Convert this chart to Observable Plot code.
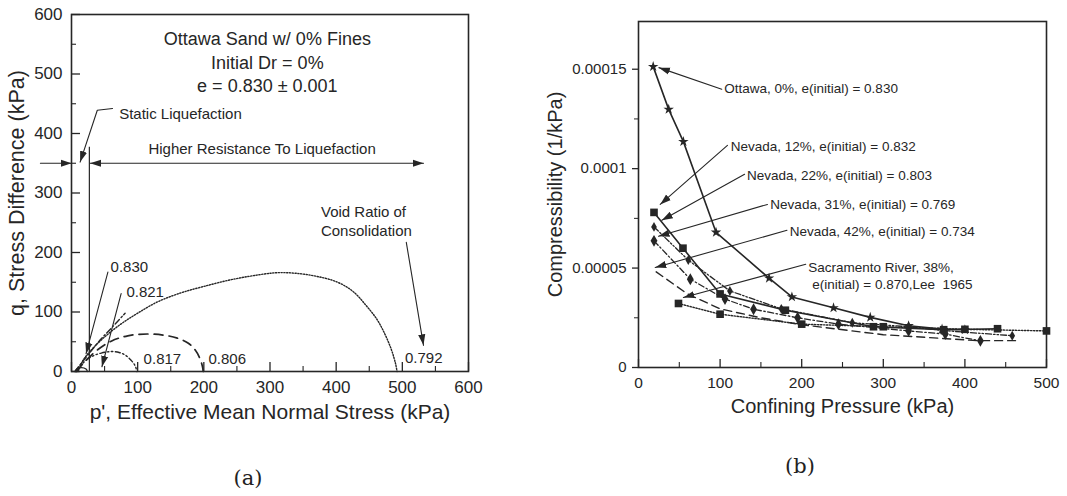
<!DOCTYPE html>
<html><head><meta charset="utf-8">
<script src="https://cdn.jsdelivr.net/npm/d3@7"></script>
<script src="https://cdn.jsdelivr.net/npm/@observablehq/plot@0.6"></script>
<style>
body{margin:0;background:#fff;}
#wrap{position:relative;width:1067px;height:496px;overflow:hidden;background:#fff;}
#a,#b{position:absolute;top:0;}
#a{left:0px;} #b{left:540px;}
.cap{position:absolute;font-family:"DejaVu Serif","Liberation Serif",serif;font-size:21px;color:#222;transform:translate(-50%,-50%);}
</style></head><body>
<div id="wrap"><div id="a"></div><div id="b"></div>
<div class="cap" style="left:248px;top:478px">(a)</div>
<div class="cap" style="left:800px;top:466px">(b)</div></div>
<script>
const INK = "#262626";
const FONT = "'Liberation Sans', Arial, sans-serif";

// ---------- Panel (a) data ----------
const aXTicks = [0,100,200,300,400,500,600];
const aXMinor = [50,150,250,350,450,550];
const aYTicks = [0,100,200,300,400,500,600];
const aYMinor = [50,150,250,350,450,550];
const aXTitle = "p', Effective Mean Normal Stress (kPa)";
const aYTitle = "q, Stress Difference (kPa)";
const aHeader = ["Ottawa Sand w/ 0% Fines","Initial Dr = 0%","e = 0.830 \u00b1 0.001"];
const aHeaderY = [559,518,479];
// stress paths (p', q) by void ratio of consolidation
const path0792 = [[10,0],[17,18],[28,34],[50,58],[75,80],[100,98],[130,117],[165,132],[200,143],[240,154],[280,162],[310,166],[340,165],[370,160],[400,151],[425,135],[446,110],[462,87],[474,62],[484,35],[490,12],[492,0]];
const path0806 = [[8,0],[15,10],[25,22],[40,37],[60,51],[85,60],[115,63],[140,61],[160,56],[176,48],[187,36],[194,22],[198,8],[199,0]];
const path0817 = [[6,0],[12,8],[20,17],[32,26],[45,31],[60,33.5],[72,32],[82,27],[90,19],[96,10],[99,0]];
const path0821 = [[5,0],[12,10],[25,28],[45,55],[62,75],[81,98]];
const path0830 = [[6,0],[8,4],[15,6.5],[22,4],[24,0]];
const aValueLabels = ["0.830","0.821","0.817","0.806","0.792"];
const aValueX = [59,83,109,207,504];
const aValueY = [175,134,21,21,22];
// annotations
const aNotesStart = [
  {t:"Static Liquefaction", x:72, y:432},
  {t:"Void Ratio of", x:377, y:267},
  {t:"Consolidation", x:377, y:235}
];
const aNotesMiddle = [{t:"Higher Resistance To Liquefaction", x:288, y:374}];
const leaderStatic = [[62,442],[39,439],[13,352]];
const leaderOutside = [[-47,350],[0,350]];
const leaderVoid = [[506,217],[532,44]];
const leader0830 = [[55,167],[22,30]];
const leader0821 = [[75,131],[46,8]];
const rangeArrow = [[28,350],[532,350]];
const boundaryX = 27, boundaryTop = 377;

// ---------- Panel (b) data ----------
const bXTicks = [0,100,200,300,400,500];
const bXMinor = [50,150,250,350,450];
const bYTicks = [0,0.00005,0.0001,0.00015];
const bYMinor = [0.000025,0.000075,0.000125];
const bXTitle = "Confining Pressure (kPa)";
const bYTitle = "Compressibility (1/kPa)";
const ottawaX = [18,37,55,95,160,188,239,284,331,372,400];
const ottawaY = [0.0001513,0.0001298,0.0001136,0.000068,0.0000449,0.0000355,0.00003,0.0000252,0.000021,0.0000193,0.000019];
const nev12X = [19,54.5,100,180,288,374,440];
const nev12Y = [0.000078,0.00006,0.000037,0.0000288,0.0000205,0.000019,0.0000195];
const nev22X = [19,61,112,175,262,331,376,458];
const nev22Y = [0.0000707,0.000054,0.0000385,0.0000295,0.0000225,0.0000205,0.0000185,0.000016];
const nev31X = [19,63.5,106,141,195,245,331,376,419];
const nev31Y = [0.0000637,0.0000444,0.0000344,0.0000293,0.000025,0.0000218,0.0000184,0.0000168,0.0000134];
const nev42X = [21.7,60,100,150,200,300,415,462];
const nev42Y = [0.0000481,0.000037,0.0000295,0.000025,0.0000215,0.0000165,0.0000135,0.0000135];
const sacX = [49,100,200,300,400,500];
const sacY = [0.0000322,0.0000268,0.0000218,0.0000205,0.0000192,0.0000184];
const bNotes = [
  {t:"Ottawa, 0%, e(initial) = 0.830", x:105, y:0.00014},
  {t:"Nevada, 12%, e(initial) = 0.832", x:113, y:0.000111},
  {t:"Nevada, 22%, e(initial) = 0.803", x:133, y:0.0000963},
  {t:"Nevada, 31%, e(initial) = 0.769", x:161.6, y:0.0000817},
  {t:"Nevada, 42%, e(initial) = 0.734", x:185.4, y:0.0000683},
  {t:"Sacramento River, 38%,", x:208, y:0.0000503},
  {t:"e(initial) = 0.870,Lee  1965", x:213, y:0.0000419}
];
const bLeaders = [
  [[102,0.0001399],[25,0.0001508]],
  [[109,0.0001117],[26.6,0.000082]],
  [[130,0.0000972],[28.6,0.0000740]],
  [[158,0.000082],[24.5,0.000066]],
  [[182,0.000069],[20.5,0.0000503]],
  [[205,0.0000519],[55,0.0000352]]
];

// ---------- helpers ----------
function head(orient) {
  return (color) => {
    const m = d3.create("svg:marker")
      .attr("viewBox", "-11 -5 12 10")
      .attr("markerWidth", 12).attr("markerHeight", 10)
      .attr("markerUnits", "userSpaceOnUse")
      .attr("refX", 0).attr("refY", 0)
      .attr("orient", orient);
    m.append("path").attr("d", "M0,0L-11,-3.6L-11,3.6Z").attr("fill", color).attr("stroke", "none");
    return m.node();
  };
}
const toPts = (arr, id) => arr.map(([x, y]) => ({x, y, id}));
const zipPts = (xs, ys, id) => xs.map((x, i) => ({x, y: ys[i], id}));

// ---------- Panel (a) ----------
const aW = 540, aH = 430, aML = 71, aMR = 72, aMT = 14, aMB = 59;
const aInnerW = aW - aML - aMR, aInnerH = aH - aMT - aMB;
const aLeaders = [
  ...toPts(leaderStatic, "s"), ...toPts(leaderOutside, "o"), ...toPts(leaderVoid, "v"),
  ...toPts(leader0830, "a"), ...toPts(leader0821, "b")
];
const plotA = Plot.plot({
  width: aW, height: aH, marginLeft: aML, marginRight: aMR, marginTop: aMT, marginBottom: aMB,
  x: {domain: [0, 600]}, y: {domain: [0, 600]},
  style: {fontFamily: FONT, fontSize: "17px", color: INK, background: "white", overflow: "visible"},
  marks: [
    Plot.frame({stroke: INK, strokeWidth: 1.6}),
    Plot.tickX(aXTicks, {x: d => d, insetTop: aInnerH - 9, stroke: INK, strokeWidth: 1.3}),
    Plot.tickX(aXMinor, {x: d => d, insetTop: aInnerH - 5, stroke: INK, strokeWidth: 1.1}),
    Plot.tickY(aYTicks, {y: d => d, insetRight: aInnerW - 9, stroke: INK, strokeWidth: 1.3}),
    Plot.tickY(aYMinor, {y: d => d, insetRight: aInnerW - 5, stroke: INK, strokeWidth: 1.1}),
    Plot.axisX({ticks: aXTicks, tickSize: 0, tickPadding: 9, fontSize: 17, label: null}),
    Plot.axisY({ticks: aYTicks, tickSize: 0, tickPadding: 9, fontSize: 17, label: null}),
    Plot.text([aXTitle], {text: d => d, frameAnchor: "bottom", dy: 41, textAnchor: "middle", lineAnchor: "middle", fontSize: 21, fill: INK}),
    Plot.text([aYTitle], {text: d => d, frameAnchor: "left", dx: -54, rotate: -90, textAnchor: "middle", lineAnchor: "middle", fontSize: 21.5, fill: INK}),
    // stress paths
    Plot.line(toPts(path0792, "0.792"), {x: "x", y: "y", curve: "catmull-rom", stroke: INK, strokeWidth: 1.4, strokeDasharray: "1.2,1.6"}),
    Plot.line(toPts(path0806, "0.806"), {x: "x", y: "y", curve: "catmull-rom", stroke: INK, strokeWidth: 1.7, strokeDasharray: "9,6"}),
    Plot.line(toPts(path0817, "0.817"), {x: "x", y: "y", curve: "catmull-rom", stroke: INK, strokeWidth: 1.4, strokeDasharray: "5,2.5,1.5,2.5,1.5,2.5"}),
    Plot.line(toPts(path0821, "0.821"), {x: "x", y: "y", curve: "catmull-rom", stroke: INK, strokeWidth: 1.4, strokeDasharray: "6,2.5,1.5,2.5"}),
    Plot.line(toPts(path0830, "0.830"), {x: "x", y: "y", curve: "catmull-rom", stroke: INK, strokeWidth: 1.3}),
    // boundary and arrows
    Plot.ruleX([boundaryX], {x: d => d, y1: 0, y2: boundaryTop, stroke: INK, strokeWidth: 1.2}),
    Plot.line(aLeaders, {x: "x", y: "y", z: "id", stroke: INK, strokeWidth: 1.1, markerEnd: head("auto")}),
    Plot.line(toPts(rangeArrow, "r"), {x: "x", y: "y", stroke: INK, strokeWidth: 1.1, markerStart: head("auto-start-reverse"), markerEnd: head("auto")}),
    // texts
    Plot.text(aHeader, {text: d => d, x: () => 296, y: (d, i) => aHeaderY[i], fontSize: 18, fill: INK}),
    Plot.text(aNotesStart, {text: "t", x: "x", y: "y", textAnchor: "start", fontSize: 15, fill: INK}),
    Plot.text(aNotesMiddle, {text: "t", x: "x", y: "y", textAnchor: "middle", fontSize: 15, fill: INK}),
    Plot.text(aValueLabels, {text: d => d, x: (d, i) => aValueX[i], y: (d, i) => aValueY[i], textAnchor: "start", fontSize: 15, fill: INK})
  ]
});
document.getElementById("a").append(plotA);

// ---------- Panel (b) ----------
const bW = 527, bH = 430, bML = 98, bMR = 21, bMT = 21, bMB = 63;
const bInnerW = bW - bML - bMR, bInnerH = bH - bMT - bMB;
const bLeaderPts = bLeaders.flatMap((l, i) => toPts(l, "L" + i));
const yFmt = d => String(d);
const plotB = Plot.plot({
  width: bW, height: bH, marginLeft: bML, marginRight: bMR, marginTop: bMT, marginBottom: bMB,
  x: {domain: [0, 500]}, y: {domain: [0, 0.000174]},
  style: {fontFamily: FONT, fontSize: "15px", color: INK, background: "white", overflow: "visible"},
  marks: [
    Plot.frame({stroke: INK, strokeWidth: 1.6}),
    Plot.tickX(bXTicks, {x: d => d, insetTop: bInnerH - 8, stroke: INK, strokeWidth: 1.3}),
    Plot.tickX(bXMinor, {x: d => d, insetTop: bInnerH - 5, stroke: INK, strokeWidth: 1.1}),
    Plot.axisX({ticks: bXTicks, tickSize: 0, tickPadding: 9, fontSize: 15.5, label: null}),
    Plot.axisY({ticks: bYTicks, tickSize: 6, tickPadding: 6, fontSize: 15, tickFormat: yFmt, label: null, strokeWidth: 1.3}),
    Plot.axisY({ticks: bYMinor, tickSize: 4, tickPadding: 6, tickFormat: () => "", label: null}),
    Plot.text([bXTitle], {text: d => d, frameAnchor: "bottom", dy: 39, textAnchor: "middle", lineAnchor: "middle", fontSize: 20, fill: INK}),
    Plot.text([bYTitle], {text: d => d, frameAnchor: "left", dx: -83, rotate: -90, textAnchor: "middle", lineAnchor: "middle", fontSize: 20, fill: INK}),
    // series
    Plot.line(zipPts(sacX, sacY, "sac"), {x: "x", y: "y", stroke: INK, strokeWidth: 1.4, strokeDasharray: "1.4,1.6"}),
    Plot.line(zipPts(nev42X, nev42Y, "42"), {x: "x", y: "y", stroke: INK, strokeWidth: 1.4, strokeDasharray: "8,5"}),
    Plot.line(zipPts(nev31X, nev31Y, "31"), {x: "x", y: "y", stroke: INK, strokeWidth: 1.3, strokeDasharray: "6,2.5,1.5,2.5"}),
    Plot.line(zipPts(nev22X, nev22Y, "22"), {x: "x", y: "y", stroke: INK, strokeWidth: 1.3, strokeDasharray: "6,2,1.5,2,1.5,2"}),
    Plot.line(zipPts(nev12X, nev12Y, "12"), {x: "x", y: "y", stroke: INK, strokeWidth: 1.6}),
    Plot.line(zipPts(ottawaX, ottawaY, "ott"), {x: "x", y: "y", stroke: INK, strokeWidth: 1.6}),
    Plot.dot(zipPts(sacX, sacY, "sac"), {x: "x", y: "y", symbol: "square", r: 4.3, fill: INK}),
    Plot.dot(zipPts(nev12X, nev12Y, "12"), {x: "x", y: "y", symbol: "square", r: 4.3, fill: INK}),
    Plot.dot(zipPts(nev22X, nev22Y, "22"), {x: "x", y: "y", symbol: "diamond", r: 3, fill: INK}),
    Plot.dot(zipPts(nev31X, nev31Y, "31"), {x: "x", y: "y", symbol: "diamond", r: 3.6, fill: INK}),
    Plot.dot(zipPts(ottawaX, ottawaY, "ott"), {x: "x", y: "y", symbol: "star", r: 3.3, fill: INK}),
    // leaders and labels
    Plot.line(bLeaderPts, {x: "x", y: "y", z: "id", stroke: INK, strokeWidth: 1.1, markerEnd: head("auto")}),
    Plot.text(bNotes, {text: "t", x: "x", y: "y", textAnchor: "start", fontSize: 13.5, fill: INK})
  ]
});
document.getElementById("b").append(plotB);
</script>
</body></html>
